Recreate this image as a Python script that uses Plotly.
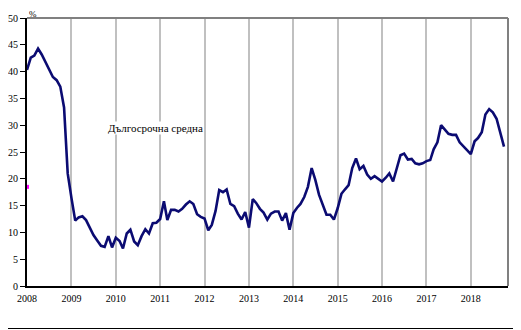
import pandas as pd
import plotly.graph_objects as go

# Monthly values, %, January 2008 - October 2018
v2008 = [40.3, 42.6, 43.0, 44.3, 43.2, 41.8, 40.5, 39.0, 38.4, 37.2, 33.3, 21.0]
v2009 = [16.4, 12.2, 12.8, 13.0, 12.3, 10.8, 9.5, 8.5, 7.5, 7.3, 9.3, 7.2]
v2010 = [9.0, 8.4, 7.0, 9.8, 10.5, 8.3, 7.6, 9.3, 10.6, 9.8, 11.7, 11.8]
v2011 = [12.5, 15.8, 12.3, 14.2, 14.2, 13.9, 14.4, 15.2, 15.8, 15.3, 13.4, 12.9]
v2012 = [12.6, 10.4, 11.4, 14.0, 17.9, 17.5, 18.0, 15.3, 14.9, 13.5, 12.4, 13.8]
v2013 = [10.9, 16.2, 15.5, 14.4, 13.7, 12.4, 13.5, 13.9, 13.9, 12.2, 13.6, 10.5]
v2014 = [13.6, 14.6, 15.3, 16.6, 18.5, 22.0, 19.8, 17.0, 15.1, 13.3, 13.3, 12.4]
v2015 = [14.5, 17.2, 18.0, 18.8, 22.0, 23.8, 21.8, 22.4, 20.8, 20.0, 20.5, 20.0]
v2016 = [19.5, 20.2, 21.0, 19.5, 22.0, 24.4, 24.7, 23.6, 23.7, 22.9, 22.7, 22.9]
v2017 = [23.3, 23.5, 25.5, 26.8, 30.0, 29.2, 28.4, 28.2, 28.2, 26.8, 26.0, 25.2]
v2018 = [24.6, 27.0, 27.6, 28.7, 32.0, 33.0, 32.4, 31.2, 28.8, 26.0]

values = v2008 + v2009 + v2010 + v2011 + v2012 + v2013 + v2014 + v2015 + v2016 + v2017 + v2018
dates = pd.date_range("2008-01-01", periods=len(values), freq="MS")

avg_date = ["2008-01-01"]
avg_value = [18.5]

years = list(range(2008, 2019))
tick_vals = [f"{y}-01-01" for y in years]
tick_text = [str(y) for y in years]

serif = "Liberation Serif, Times New Roman, serif"

fig = go.Figure()
fig.add_trace(go.Scatter(
    x=dates, y=values, mode="lines",
    line=dict(color="#0b0b72", width=2.6),
    hoverinfo="skip", showlegend=False,
))
fig.add_trace(go.Scatter(
    x=avg_date, y=avg_value, mode="markers",
    marker=dict(color="#ff00ff", size=4, symbol="square"),
    cliponaxis=False, showlegend=False,
))

# outer frame
fig.add_shape(type="rect", xref="paper", yref="paper",
              x0=-0.0551, x1=1.025, y0=-0.1586, y1=1.0653,
              line=dict(color="black", width=1.2), layer="below")
# gray top/right plot border
fig.add_shape(type="line", xref="paper", yref="paper", x0=0, x1=1, y0=1, y1=1,
              line=dict(color="#808080", width=2))
fig.add_shape(type="line", xref="paper", yref="paper", x0=1, x1=1, y0=0, y1=1,
              line=dict(color="#808080", width=2))

fig.add_annotation(text="%", xref="paper", yref="paper", x=0.002, y=1.0373,
                   xanchor="left", yanchor="top", borderpad=0,
                   showarrow=False, font=dict(family=serif, size=9, color="black"))
fig.add_annotation(text="Дългосрочна средна", xref="paper", yref="paper",
                   x=0.267, y=0.59, xanchor="center", yanchor="middle",
                   showarrow=False, bgcolor="white", borderpad=0,
                   font=dict(family=serif, size=11, color="black"))

fig.update_layout(
    width=513, height=322,
    margin=dict(l=19, r=13, t=10, b=44, autoexpand=False),
    paper_bgcolor="white", plot_bgcolor="white",
    font=dict(family=serif, size=10, color="black"),
    xaxis=dict(
        range=["2008-01-01", "2018-11-03"],
        tickvals=tick_vals, ticktext=tick_text,
        showgrid=True, gridcolor="#c0c0c0", gridwidth=2,
        showline=True, linecolor="black", linewidth=2,
        ticks="outside", ticklen=2, tickcolor="rgba(0,0,0,0)", zeroline=False,
        tickfont=dict(family=serif, size=10), automargin=False,
    ),
    yaxis=dict(
        range=[0, 50], dtick=5, showgrid=False,
        showline=True, linecolor="black", linewidth=2,
        ticks="outside", ticklen=5, tickcolor="black", tickwidth=1,
        zeroline=False, tickfont=dict(family=serif, size=10), automargin=False,
    ),
)

fig.write_html("out.html")
